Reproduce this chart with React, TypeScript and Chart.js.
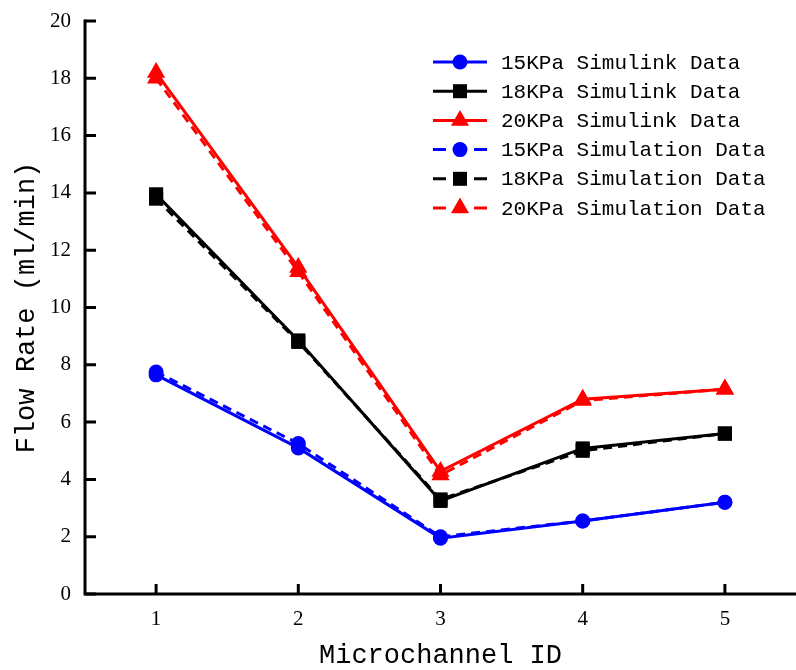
import React, { useEffect, useRef } from "react";
import { Chart, registerables } from "chart.js";

Chart.register(...registerables);

const categories = ["1", "2", "3", "4", "5"];
const yTicks = [0, 2, 4, 6, 8, 10, 12, 14, 16, 18, 20];

const simulink15 = [7.65, 5.1, 1.95, 2.55, 3.2];
const simulink18 = [13.95, 8.85, 3.25, 5.08, 5.6];
const simulink20 = [18.2, 11.4, 4.28, 6.8, 7.15];
const simulation15 = [7.75, 5.25, 2.0, 2.55, 3.2];
const simulation18 = [13.8, 8.8, 3.3, 5.0, 5.6];
const simulation20 = [18.0, 11.25, 4.15, 6.75, 7.15];

const seriesLabels = [
  "15KPa Simulink Data",
  "18KPa Simulink Data",
  "20KPa Simulink Data",
  "15KPa Simulation Data",
  "18KPa Simulation Data",
  "20KPa Simulation Data",
];

const xTitle = "Microchannel ID";
const yTitle = "Flow Rate (ml/min)";

const BLUE = "#0000ff";
const BLACK = "#000000";
const RED = "#ff0000";
const MONO = "'Liberation Mono', 'DejaVu Sans Mono', monospace";
const SERIF = "'Liberation Serif', 'DejaVu Serif', serif";

function drawMarker(ctx: CanvasRenderingContext2D, style: string, x: number, y: number, color: string) {
  ctx.save();
  ctx.fillStyle = color;
  ctx.beginPath();
  if (style === "circle") {
    ctx.arc(x, y, 7.5, 0, Math.PI * 2);
  } else if (style === "rect") {
    ctx.rect(x - 7, y - 7, 14, 14);
  } else {
    const r = 10.5;
    ctx.moveTo(x, y - r);
    ctx.lineTo(x + r * 0.866, y + r * 0.5);
    ctx.lineTo(x - r * 0.866, y + r * 0.5);
    ctx.closePath();
  }
  ctx.fill();
  ctx.restore();
}

const decorPlugin = {
  id: "decor",
  afterDraw(chart: any) {
    const ctx: CanvasRenderingContext2D = chart.ctx;
    const area = chart.chartArea;
    const xs = chart.scales.x;
    const ys = chart.scales.y;
    ctx.save();
    // axes
    ctx.strokeStyle = "#000";
    ctx.lineWidth = 3;
    ctx.lineCap = "butt";
    ctx.beginPath();
    ctx.moveTo(area.left, area.top - 1.5);
    ctx.lineTo(area.left, area.bottom);
    ctx.lineTo(chart.width, area.bottom);
    ctx.stroke();
    // y ticks (inward)
    ctx.beginPath();
    yTicks.forEach((v) => {
      const py = ys.getPixelForValue(v);
      ctx.moveTo(area.left, py);
      ctx.lineTo(area.left + 11, py);
    });
    // x ticks (inward)
    categories.forEach((_c, i) => {
      const px = xs.getPixelForValue(i);
      ctx.moveTo(px, area.bottom);
      ctx.lineTo(px, area.bottom - 10);
    });
    ctx.stroke();

    // axis titles
    ctx.fillStyle = "#000";
    ctx.font = `27px ${MONO}`;
    ctx.textAlign = "center";
    ctx.textBaseline = "middle";
    ctx.fillText(xTitle, (area.left + chart.width) / 2, 656);
    ctx.save();
    ctx.translate(27, (area.top + area.bottom) / 2);
    ctx.rotate(-Math.PI / 2);
    ctx.fillText(yTitle, 0, 0);
    ctx.restore();

    // legend
    const ds = chart.data.datasets;
    ctx.font = `21px ${MONO}`;
    ctx.textAlign = "left";
    ctx.textBaseline = "middle";
    ds.forEach((d: any, i: number) => {
      const y = 62 + i * 29.2;
      const color = d.borderColor;
      ctx.strokeStyle = color;
      ctx.lineWidth = 3;
      ctx.beginPath();
      if (d.borderDash && d.borderDash.length) {
        ctx.moveTo(433, y);
        ctx.lineTo(446, y);
        ctx.moveTo(474, y);
        ctx.lineTo(487, y);
      } else {
        ctx.moveTo(433, y);
        ctx.lineTo(487, y);
      }
      ctx.stroke();
      drawMarker(ctx, d.pointStyle, 460, y, color);
      ctx.fillStyle = "#000";
      ctx.fillText(d.label, 501, y + 1);
    });
    ctx.restore();
  },
};

function makeDataset(label: string, data: number[], color: string, style: string, dashed: boolean) {
  const radius = style === "circle" ? 7.5 : style === "rect" ? 10 : 10.5;
  return {
    label,
    data,
    borderColor: color,
    backgroundColor: color,
    borderWidth: 3,
    borderDash: dashed ? [9, 6] : [],
    pointStyle: style,
    pointRadius: radius,
    pointBorderWidth: 0,
    pointBackgroundColor: color,
    pointBorderColor: color,
    tension: 0,
    clip: false as any,
  };
}

export default function App() {
  const ref = useRef<HTMLCanvasElement | null>(null);
  useEffect(() => {
    if (!ref.current) return;
    const chart = new Chart(ref.current, {
      type: "line",
      data: {
        labels: categories,
        datasets: [
          makeDataset(seriesLabels[0], simulink15, BLUE, "circle", false),
          makeDataset(seriesLabels[1], simulink18, BLACK, "rect", false),
          makeDataset(seriesLabels[2], simulink20, RED, "triangle", false),
          makeDataset(seriesLabels[3], simulation15, BLUE, "circle", true),
          makeDataset(seriesLabels[4], simulation18, BLACK, "rect", true),
          makeDataset(seriesLabels[5], simulation20, RED, "triangle", true),
        ],
      },
      options: {
        responsive: false,
        animation: false,
        layout: { autoPadding: false, padding: { top: 21, right: 0, left: 0, bottom: 0 } },
        plugins: {
          legend: { display: false },
          tooltip: { enabled: false },
        },
        scales: {
          x: {
            type: "category",
            offset: true,
            grid: { display: false, drawTicks: false },
            border: { display: false },
            ticks: {
              color: "#000",
              font: { family: SERIF, size: 21 },
              padding: 13,
            },
            afterFit: (s: any) => {
              s.height = 76;
              s.paddingLeft = 0;
              s.paddingRight = 0;
            },
          },
          y: {
            min: 0,
            max: 20,
            grid: { display: false, drawTicks: false },
            border: { display: false },
            ticks: {
              stepSize: 2,
              color: "#000",
              font: { family: SERIF, size: 21 },
              padding: 14,
            },
            afterFit: (s: any) => {
              s.width = 85;
              s.paddingTop = 0;
              s.paddingBottom = 0;
            },
          },
        },
      },
      plugins: [decorPlugin],
    });
    return () => chart.destroy();
  }, []);
  return (
    <div style={{ position: "absolute", left: 0, top: 0, width: 796, height: 670, background: "#fff" }}>
      <canvas ref={ref} width={796} height={670} style={{ width: 796, height: 670 }} />
    </div>
  );
}
